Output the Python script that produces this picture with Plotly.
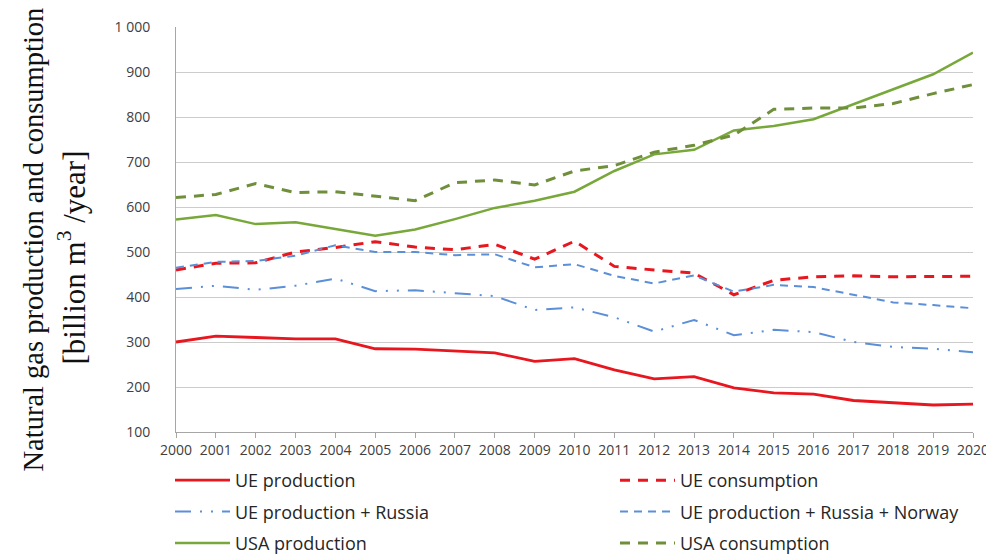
import plotly.graph_objects as go

years = list(range(2000, 2021))
ue_production = [300, 313, 310, 307, 307, 285, 284, 280, 276, 257, 263, 238, 218, 223, 198, 187, 184, 170, 165, 160, 162]
ue_consumption = [460, 475, 476, 500, 510, 523, 511, 505, 517, 484, 524, 468, 460, 453, 405, 437, 445, 447, 445, 445, 446]
ue_prod_russia = [418, 425, 416, 425, 441, 413, 415, 408, 402, 371, 377, 355, 323, 349, 315, 327, 322, 300, 289, 285, 277]
ue_prod_russia_norway = [465, 478, 480, 492, 515, 500, 500, 493, 495, 466, 473, 447, 430, 448, 412, 427, 422, 405, 388, 382, 375]
usa_production = [572, 582, 562, 566, 551, 536, 550, 573, 598, 614, 634, 680, 717, 727, 770, 780, 795, 828, 862, 895, 943]
usa_consumption = [621, 628, 652, 632, 634, 624, 614, 654, 660, 649, 680, 692, 722, 737, 760, 817, 820, 820, 830, 852, 872]

y_tickvals = [100, 200, 300, 400, 500, 600, 700, 800, 900, 1000]
y_ticktext = ["100", "200", "300", "400", "500", "600", "700", "800", "900", "1 000"]

RED = "#e8161e"
BLUE = "#5b8fd8"
GREEN = "#78a83a"
OLIVE = "#6f8f3a"

series = [
    ("UE production", ue_production, RED, "solid", 2.8, "legend"),
    ("UE consumption", ue_consumption, RED, "10px,8px", 3, "legend2"),
    ("UE production + Russia", ue_prod_russia, BLUE, "16px,9px,2px,9px,2px,9px", 2, "legend"),
    ("UE production + Russia + Norway", ue_prod_russia_norway, BLUE, "8px,6px", 2, "legend2"),
    ("USA production", usa_production, GREEN, "solid", 2.5, "legend"),
    ("USA consumption", usa_consumption, OLIVE, "10px,8px", 3, "legend2"),
]

fig = go.Figure()
for i, (name, vals, color, dash, w, leg) in enumerate(series):
    fig.add_trace(go.Scatter(
        x=years, y=vals, name=name, mode="lines",
        line=dict(color=color, dash=dash, width=w),
        legend=leg, legendgroup=f"g{i}",
    ))

W, H = 994, 557
L, R, T, B = 168, 29, 19, 133

legfont = dict(family="Open Sans, Liberation Sans, sans-serif", size=18, color="#262626")
tickfont = dict(family="Open Sans, Liberation Sans, sans-serif", size=14, color="#404040")
titlefont = dict(family="Liberation Serif, Times New Roman, serif", size=28.5, color="#111111")

fig.update_layout(
    width=W, height=H,
    margin=dict(l=L, r=R, t=T, b=B, autoexpand=False),
    paper_bgcolor="white", plot_bgcolor="white",
    showlegend=True,
    legend=dict(
        orientation="v", xref="container", yref="container",
        x=162 / W, y=1 - 454 / H, xanchor="left", yanchor="top",
        font=legfont, itemwidth=55, tracegroupgap=5, bgcolor="rgba(0,0,0,0)",
    ),
    legend2=dict(
        orientation="v", xref="container", yref="container",
        x=607 / W, y=1 - 454 / H, xanchor="left", yanchor="top",
        font=legfont, itemwidth=55, tracegroupgap=5, bgcolor="rgba(0,0,0,0)",
    ),
    xaxis=dict(
        range=[2000, 2020], tickmode="array", tickvals=years,
        ticktext=[str(y) for y in years],
        showgrid=False, showline=True, linecolor="#a6a6a6", linewidth=1,
        ticks="outside", ticklen=5, tickcolor="#a6a6a6",
        tickfont=tickfont, zeroline=False,
    ),
    yaxis=dict(
        range=[100, 1000], tickmode="array", tickvals=y_tickvals, ticktext=y_ticktext,
        showgrid=True, gridcolor="#cccccc", gridwidth=1,
        showline=True, linecolor="#a6a6a6", linewidth=1,
        ticks="", zeroline=False, ticklabelstandoff=22,
        tickfont=tickfont,
    ),
    annotations=[
        dict(
            text="Natural gas production and consumption",
            xref="paper", yref="paper", x=0, y=0.5,
            xanchor="center", yanchor="middle", xshift=-143, yshift=-10,
            textangle=-90, showarrow=False, font=titlefont,
        ),
        dict(
            text="[billion m<sup>3</sup> /year]",
            xref="paper", yref="paper", x=0, y=0.5,
            xanchor="center", yanchor="middle", xshift=-104, yshift=-28,
            textangle=-90, showarrow=False,
            font=dict(family="Liberation Serif, Times New Roman, serif", size=31, color="#111111"),
        ),
    ],
)

fig.write_html("out.html")
